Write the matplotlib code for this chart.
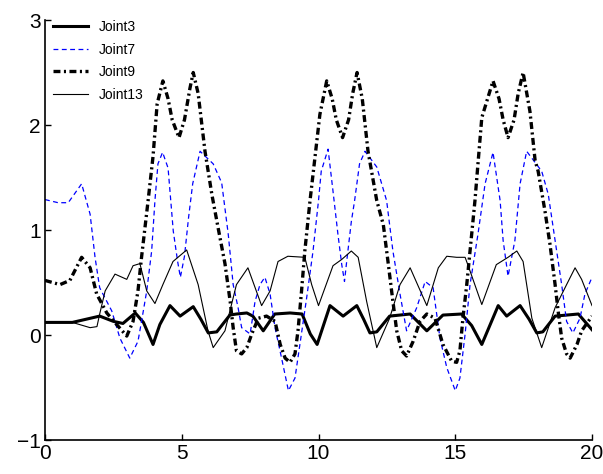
import matplotlib
matplotlib.use('Agg')
import matplotlib.pyplot as plt

plt.rcParams['font.family'] = ['Liberation Sans', 'DejaVu Sans']
plt.rcParams['lines.scale_dashes'] = False

# Joint3 - thick solid
j3_x = [0, 1.0, 1.5, 2.0, 2.5, 2.85, 3.3, 3.6, 3.95, 4.2,
        4.57, 4.94, 5.42, 5.7, 5.97, 6.28, 6.76, 7.0, 7.38, 7.6,
        7.98, 8.4, 8.96, 9.4, 9.7, 9.95, 10.42, 10.9, 11.4, 11.65,
        11.88, 12.13, 12.6, 13.35, 13.96, 14.55, 15.23, 15.6, 15.97, 16.57,
        16.88, 17.37, 17.7, 17.98, 18.2, 18.65, 19.5, 20.0]
j3_y = [0.12, 0.12, 0.15, 0.18, 0.13, 0.11, 0.21, 0.12, -0.09, 0.1,
        0.28, 0.18, 0.27, 0.15, 0.02, 0.03, 0.19, 0.2, 0.21, 0.18,
        0.04, 0.2, 0.21, 0.2, 0.01, -0.09, 0.28, 0.18, 0.28, 0.15,
        0.02, 0.03, 0.18, 0.2, 0.04, 0.19, 0.2, 0.09, -0.09, 0.28,
        0.18, 0.28, 0.15, 0.02, 0.03, 0.18, 0.2, 0.05]

# Joint7 - blue dashed
j7_x = [0, 0.48, 0.85, 1.34, 1.65, 1.83, 2.0, 2.44, 2.74, 3.1,
        3.4, 3.53, 3.72, 3.9, 4.02, 4.13, 4.3, 4.5, 4.69, 4.85,
        4.95, 5.1, 5.25, 5.4, 5.67, 6.15, 6.46, 6.7, 6.88, 7.06,
        7.19, 7.5, 7.68, 7.86, 8.04, 8.23, 8.41, 8.65, 8.9, 9.14,
        9.32, 9.57, 9.8, 10.0, 10.1, 10.35, 10.53, 10.71, 10.85, 10.95,
        11.03, 11.2, 11.32, 11.5, 11.7, 12.13, 12.49, 12.72, 12.98, 13.22,
        13.59, 13.9, 14.19, 14.44, 14.69, 15.0, 15.17, 15.36, 15.54, 15.83,
        16.09, 16.38, 16.64, 16.75, 16.93, 17.18, 17.37, 17.61, 18.16, 18.4,
        18.65, 18.89, 19.07, 19.3, 19.56, 19.74, 20.0]
j7_y = [1.29, 1.26, 1.26, 1.44, 1.15, 0.74, 0.45, 0.23, -0.03, -0.22,
        -0.06, 0.13, 0.42, 0.8, 1.28, 1.63, 1.74, 1.59, 0.99, 0.7,
        0.55, 0.75, 1.12, 1.44, 1.75, 1.63, 1.45, 0.96, 0.48, 0.26,
        0.07, 0.01, 0.32, 0.48, 0.55, 0.39, 0.07, -0.22, -0.53, -0.41,
        -0.09, 0.36, 0.8, 1.28, 1.56, 1.77, 1.37, 0.96, 0.67, 0.51,
        0.7, 1.08, 1.28, 1.63, 1.75, 1.6, 1.28, 0.8, 0.39, 0.04,
        0.26, 0.51, 0.45, -0.03, -0.31, -0.53, -0.41, 0.01, 0.48, 0.96,
        1.44, 1.74, 1.28, 0.9, 0.56, 0.9, 1.44, 1.75, 1.56, 1.34,
        0.9, 0.48, 0.13, 0.02, 0.16, 0.39, 0.55]

# Joint9 - thick dash-dot
j9_x = [0, 0.55, 0.91, 1.34, 1.65, 1.89, 2.26, 2.62, 2.99, 3.22,
        3.4, 3.53, 3.77, 3.95, 4.1, 4.31, 4.5, 4.65, 4.9, 5.1,
        5.3, 5.42, 5.6, 5.85, 6.1, 6.33, 6.58, 6.77, 6.88, 7.0,
        7.19, 7.38, 7.56, 7.8, 8.1, 8.41, 8.6, 8.78, 8.96, 9.14,
        9.25, 9.38, 9.5, 9.69, 9.87, 10.05, 10.3, 10.5, 10.65, 10.88,
        11.1, 11.25, 11.41, 11.6, 11.81, 12.13, 12.37, 12.54, 12.72, 12.86,
        13.04, 13.22, 13.46, 13.71, 13.96, 14.26, 14.55, 14.87, 15.05, 15.17,
        15.28, 15.42, 15.54, 15.72, 15.83, 15.97, 16.38, 16.6, 16.75, 16.93,
        17.15, 17.3, 17.48, 17.73, 17.92, 18.03, 18.28, 18.46, 18.65, 18.76,
        18.89, 19.07, 19.2, 19.45, 19.62, 20.0]
j9_y = [0.52, 0.48, 0.52, 0.74, 0.64, 0.39, 0.21, 0.1, -0.01, 0.13,
        0.42, 0.74, 1.28, 1.7, 2.2, 2.42, 2.25, 2.05, 1.88, 2.05,
        2.35, 2.5, 2.3, 1.75, 1.34, 1.02, 0.68, 0.32, 0.07, -0.15,
        -0.18, -0.12, 0.01, 0.16, 0.18, 0.13, -0.09, -0.22, -0.26, -0.18,
        0.04, 0.42, 0.8, 1.28, 1.69, 2.1, 2.42, 2.25, 2.05, 1.88,
        2.05, 2.3, 2.5, 2.25, 1.75, 1.28, 1.05, 0.7, 0.32, 0.04,
        -0.15, -0.2, -0.06, 0.13, 0.2, 0.16, -0.09, -0.25, -0.26, -0.15,
        0.16, 0.48, 0.8, 1.28, 1.63, 2.07, 2.42, 2.25, 2.05, 1.88,
        2.05, 2.3, 2.5, 2.13, 1.66, 1.56, 1.18, 0.87, 0.48, 0.23,
        -0.03, -0.18, -0.22, -0.09, 0.04, 0.18]

# Joint13 - thin solid
j13_x = [0, 1.0, 1.65, 1.9, 2.0, 2.2, 2.56, 2.99, 3.22, 3.47,
         3.72, 4.02, 4.31, 4.68, 5.18, 5.6, 5.96, 6.15, 6.58, 7.0,
         7.42, 7.92, 8.23, 8.52, 8.88, 9.5, 9.75, 10.0, 10.53, 10.85,
         11.2, 11.45, 11.76, 12.13, 12.6, 12.98, 13.35, 13.96, 14.38, 14.69,
         15.05, 15.36, 15.54, 15.97, 16.5, 16.93, 17.25, 17.48, 17.8, 18.16,
         18.65, 19.07, 19.38, 19.62, 20.0]
j13_y = [0.12, 0.12, 0.07, 0.08, 0.2, 0.42, 0.58, 0.53, 0.66, 0.68,
         0.42, 0.3, 0.48, 0.7, 0.81, 0.48, 0.04, -0.12, 0.04, 0.48,
         0.64, 0.28, 0.42, 0.7, 0.75, 0.74, 0.48, 0.28, 0.66, 0.72,
         0.8, 0.74, 0.32, -0.12, 0.16, 0.48, 0.64, 0.28, 0.64, 0.75,
         0.74, 0.74, 0.61, 0.29, 0.67, 0.74, 0.8, 0.7, 0.16, -0.12,
         0.26, 0.48, 0.64, 0.53, 0.28]

fig = plt.figure(figsize=(6.03, 4.74), dpi=100)
ax = fig.add_axes([0.0746, 0.0717, 0.9072, 0.8861])

ax.plot(j3_x, j3_y, color='black', lw=2.2, label='Joint3')
ax.plot(j7_x, j7_y, color='blue', lw=0.9, dashes=(3.5, 2.5), label='Joint7')
ax.plot(j9_x, j9_y, color='black', lw=2.4, dashes=(5, 2.5, 1.5, 2.5), label='Joint9')
ax.plot(j13_x, j13_y, color='black', lw=0.8, label='Joint13')

ax.set_xlim(0, 20)
ax.set_ylim(-1, 3)
ax.set_xticks([0, 5, 10, 15, 20])
ax.set_yticks([-1, 0, 1, 2, 3])
ax.spines['top'].set_visible(False)
ax.spines['right'].set_visible(False)
ax.spines['left'].set_linewidth(1.2)
ax.spines['bottom'].set_linewidth(1.2)
ax.tick_params(direction='in', length=4, width=1, labelsize=15, pad=3)

ax.legend(loc='upper left', frameon=False, fontsize=10, handlelength=2.5,
          labelspacing=0.62, borderaxespad=0.2, handletextpad=0.8,
          bbox_to_anchor=(0.0, 1.02))

fig.savefig('out.png', dpi=100)
